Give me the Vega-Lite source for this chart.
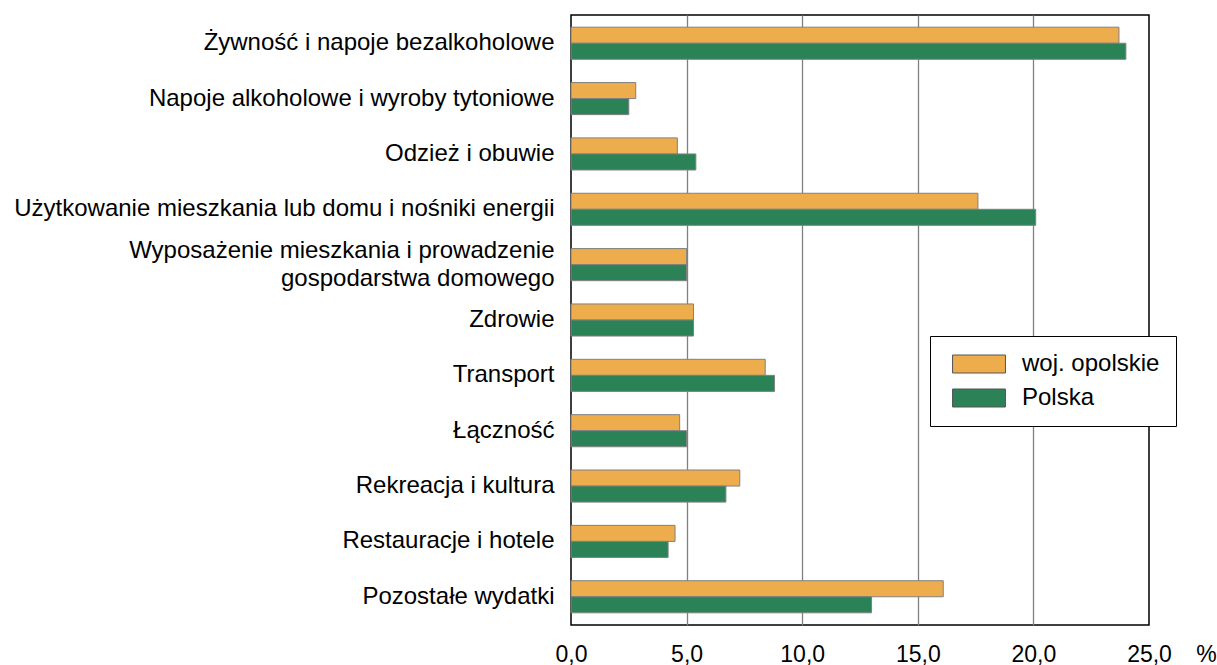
{
  "$schema": "https://vega.github.io/schema/vega-lite/v6.json",
  "width": 578,
  "height": 610,
  "autosize": {"type": "none"},
  "padding": {"left": 571, "top": 15, "right": 68, "bottom": 40},
  "background": "white",
  "config": {
    "font": "Liberation Sans",
    "view": {"stroke": "#000000", "strokeWidth": 1.5}
  },
  "data": {
    "values": [
      {"cat": "Żywność i napoje bezalkoholowe", "series": "woj. opolskie", "value": 23.7},
      {"cat": "Żywność i napoje bezalkoholowe", "series": "Polska", "value": 24.0},
      {"cat": "Napoje alkoholowe i wyroby tytoniowe", "series": "woj. opolskie", "value": 2.8},
      {"cat": "Napoje alkoholowe i wyroby tytoniowe", "series": "Polska", "value": 2.5},
      {"cat": "Odzież i obuwie", "series": "woj. opolskie", "value": 4.6},
      {"cat": "Odzież i obuwie", "series": "Polska", "value": 5.4},
      {"cat": "Użytkowanie mieszkania lub domu i nośniki energii", "series": "woj. opolskie", "value": 17.6},
      {"cat": "Użytkowanie mieszkania lub domu i nośniki energii", "series": "Polska", "value": 20.1},
      {"cat": "Wyposażenie mieszkania i prowadzenie gospodarstwa domowego", "series": "woj. opolskie", "value": 5.0},
      {"cat": "Wyposażenie mieszkania i prowadzenie gospodarstwa domowego", "series": "Polska", "value": 5.0},
      {"cat": "Zdrowie", "series": "woj. opolskie", "value": 5.3},
      {"cat": "Zdrowie", "series": "Polska", "value": 5.3},
      {"cat": "Transport", "series": "woj. opolskie", "value": 8.4},
      {"cat": "Transport", "series": "Polska", "value": 8.8},
      {"cat": "Łączność", "series": "woj. opolskie", "value": 4.7},
      {"cat": "Łączność", "series": "Polska", "value": 5.0},
      {"cat": "Rekreacja i kultura", "series": "woj. opolskie", "value": 7.3},
      {"cat": "Rekreacja i kultura", "series": "Polska", "value": 6.7},
      {"cat": "Restauracje i hotele", "series": "woj. opolskie", "value": 4.5},
      {"cat": "Restauracje i hotele", "series": "Polska", "value": 4.2},
      {"cat": "Pozostałe wydatki", "series": "woj. opolskie", "value": 16.1},
      {"cat": "Pozostałe wydatki", "series": "Polska", "value": 13.0}
    ]
  },
  "mark": {"type": "bar", "stroke": "#808080", "strokeWidth": 1},
  "encoding": {
    "y": {
      "field": "cat",
      "type": "nominal",
      "sort": null,
      "scale": {"paddingInner": 0.42, "paddingOuter": 0.22},
      "axis": {
        "title": null,
        "domain": false,
        "ticks": false,
        "tickSize": 0,
        "labelPadding": 17,
        "labelFontSize": 24,
        "labelColor": "#000000",
        "labelLimit": 700,
        "labelLineHeight": 28,
        "labelOffset": {"condition": {"test": "datum.value == 'Wyposażenie mieszkania i prowadzenie gospodarstwa domowego'", "value": -14}, "value": 0},
        "labelExpr": "datum.value == 'Wyposażenie mieszkania i prowadzenie gospodarstwa domowego' ? ['Wyposażenie mieszkania i prowadzenie ', 'gospodarstwa domowego'] : datum.label"
      }
    },
    "yOffset": {
      "field": "series",
      "type": "nominal",
      "scale": {"domain": ["woj. opolskie", "Polska"]}
    },
    "x": {
      "field": "value",
      "type": "quantitative",
      "scale": {"domain": [0, 25], "nice": false, "zero": true},
      "axis": {
        "values": [0, 5, 10, 15, 20, 25],
        "domain": false,
        "ticks": false,
        "tickSize": 0,
        "grid": true,
        "gridColor": {"condition": {"test": "datum.value == 0 || datum.value == 25", "value": "transparent"}, "value": "#808080"},
        "gridWidth": 1.3,
        "labelFlush": false,
        "labelOverlap": false,
        "labelPadding": 36,
        "labelBaseline": "alphabetic",
        "labelFontSize": 23,
        "labelColor": "#000000",
        "labelExpr": "replace(format(datum.value, '.1f'), '.', ',')",
        "title": "%",
        "titleAngle": 0,
        "titleX": 635,
        "titleY": 36,
        "titleBaseline": "alphabetic",
        "titleAlign": "center",
        "titleFontSize": 23,
        "titleFontWeight": "normal",
        "titleColor": "#000000"
      }
    },
    "color": {
      "field": "series",
      "type": "nominal",
      "scale": {"domain": ["woj. opolskie", "Polska"], "range": ["#EEAD4C", "#2B8257"]},
      "legend": {
        "title": null,
        "orient": "none",
        "legendX": 359,
        "legendY": 321,
        "direction": "vertical",
        "fillColor": "white",
        "strokeColor": "#000000",
        "padding": 16,
        "symbolOffset": 21,
        "symbolType": "M-2.94,-1L2.94,-1L2.94,1L-2.94,1Z",
        "symbolSize": 324,
        "symbolStrokeColor": "#555555",
        "symbolStrokeWidth": 1,
        "labelFontSize": 24,
        "labelColor": "#000000",
        "labelOffset": 31,
        "labelExpr": "datum.label + '\u00a0\u00a0'",
        "rowPadding": 10
      }
    }
  }
}
